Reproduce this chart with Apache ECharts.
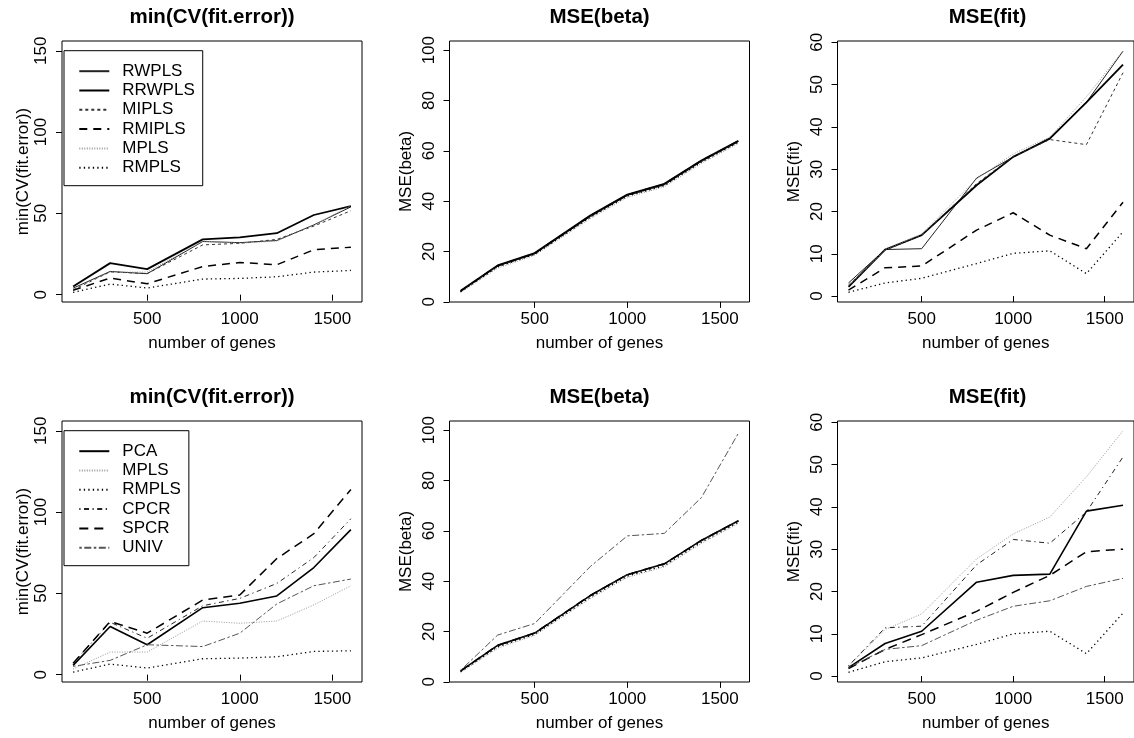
<!DOCTYPE html>
<html><head><meta charset="utf-8">
<script src="https://cdn.jsdelivr.net/npm/echarts@6/dist/echarts.min.js"></script>
<style>html,body{margin:0;padding:0;background:#fff}#c{width:1134px;height:738px}</style>
</head><body><div id="c"></div>
<script>
// ---------------- data ----------------
const genes = [100, 300, 500, 800, 1000, 1200, 1400, 1600];
const xTicks = [500, 1000, 1500];
const yTicksCV = [0, 50, 100, 150];
const yTicksBeta = [0, 20, 40, 60, 80, 100];
const yTicksFit = [0, 10, 20, 30, 40, 50, 60];

const panelTitles = ['min(CV(fit.error))', 'MSE(beta)', 'MSE(fit)'];
const xLabel = 'number of genes';

const row1Names = ['RWPLS', 'RRWPLS', 'MIPLS', 'RMIPLS', 'MPLS', 'RMPLS'];
const row2Names = ['PCA', 'MPLS', 'RMPLS', 'CPCR', 'SPCR', 'UNIV'];

// row 1 : min(CV(fit.error))
const cv_RWPLS  = [4.0, 14.3, 12.9, 32.7, 32.0, 33.3, 42.9, 54.0];
const cv_RRWPLS = [5.1, 19.4, 15.7, 34.0, 35.3, 37.8, 49.0, 54.5];
const cv_MIPLS  = [3.0, 14.0, 13.0, 30.6, 31.6, 34.0, 42.2, 51.6];
const cv_RMIPLS = [2.7, 10.2, 6.7, 17.3, 19.8, 18.4, 27.6, 29.2];
const cv_MPLS   = [3.5, 13.9, 13.9, 33.0, 31.6, 33.0, 42.9, 54.7];
const cv_RMPLS  = [1.4, 6.5, 4.1, 9.6, 10.0, 11.0, 13.9, 14.9];
// row 1 : MSE(beta)
const beta_RWPLS  = [4.2, 14.2, 19.1, 33.9, 42.3, 46.5, 55.8, 63.7];
const beta_RRWPLS = [4.4, 14.5, 19.4, 34.3, 42.6, 46.9, 56.2, 64.0];
const beta_MIPLS  = [4.1, 14.1, 19.0, 33.8, 42.2, 46.4, 55.7, 63.6];
const beta_RMIPLS = [4.3, 14.4, 19.3, 34.2, 42.5, 46.8, 56.1, 63.9];
const beta_MPLS   = [3.7, 13.4, 18.5, 33.1, 41.5, 45.7, 55.0, 62.9];
const beta_RMPLS  = [4.0, 13.9, 18.9, 33.6, 42.0, 46.2, 55.5, 63.4];
// row 1 : MSE(fit)
const fit_RWPLS  = [3.1, 11.0, 11.2, 27.9, 32.9, 37.4, 45.8, 57.9];
const fit_RRWPLS = [2.2, 11.0, 14.4, 26.2, 32.9, 37.2, 45.8, 54.7];
const fit_MIPLS  = [2.6, 10.8, 14.4, 26.6, 33.0, 37.0, 35.8, 52.8];
const fit_RMIPLS = [1.4, 6.7, 7.1, 15.6, 19.7, 14.4, 11.2, 22.2];
const fit_MPLS   = [2.4, 11.0, 14.7, 27.7, 33.6, 37.6, 47.1, 58.0];
const fit_RMPLS  = [0.9, 3.1, 4.2, 7.7, 10.1, 10.7, 5.3, 15.2];

// row 2 : min(CV(fit.error))
const cv2_PCA   = [5.7, 29.6, 18.4, 41.2, 43.9, 48.4, 65.9, 89.2];
const cv2_MPLS  = [3.5, 13.9, 13.9, 33.0, 31.6, 33.0, 42.9, 54.7];
const cv2_RMPLS = [1.6, 6.5, 4.1, 9.8, 10.2, 11.0, 14.3, 14.7];
const cv2_CPCR  = [7.1, 32.2, 22.4, 42.4, 46.9, 56.1, 72.0, 95.9];
const cv2_SPCR  = [7.1, 32.7, 25.5, 45.9, 49.0, 71.4, 86.7, 113.9];
const cv2_UNIV  = [5.1, 8.8, 18.4, 17.3, 25.5, 43.5, 54.7, 58.8];
// row 2 : MSE(beta)
const beta2_PCA   = [4.4, 14.5, 19.4, 34.3, 42.6, 46.9, 56.2, 64.0];
const beta2_MPLS  = [3.7, 13.4, 18.5, 33.1, 41.5, 45.7, 55.0, 62.9];
const beta2_RMPLS = [4.0, 13.9, 18.9, 33.6, 42.0, 46.2, 55.5, 63.4];
const beta2_CPCR  = [4.3, 14.4, 19.3, 34.2, 42.5, 46.8, 56.1, 63.9];
const beta2_SPCR  = [4.4, 14.5, 19.4, 34.3, 42.6, 46.9, 56.2, 64.0];
const beta2_UNIV  = [4.6, 18.6, 23.2, 45.8, 58.0, 59.0, 73.2, 98.8];
// row 2 : MSE(fit)
const fit2_PCA   = [2.0, 7.7, 10.6, 22.2, 23.8, 24.1, 39.0, 40.4];
const fit2_MPLS  = [2.4, 11.0, 14.7, 27.7, 33.6, 37.6, 47.1, 58.0];
const fit2_RMPLS = [0.9, 3.4, 4.3, 7.5, 10.0, 10.6, 5.3, 14.9];
const fit2_CPCR  = [2.4, 11.4, 11.8, 26.3, 32.3, 31.4, 38.8, 51.8];
const fit2_SPCR  = [1.8, 6.3, 9.8, 15.3, 19.8, 23.8, 29.4, 30.0];
const fit2_UNIV  = [2.0, 6.3, 7.2, 13.2, 16.5, 17.8, 21.2, 23.1];

// ---------------- styles / layout ----------------
const FONT = '"Liberation Sans", Arial, Helvetica, sans-serif';
const lineStyles = {
  RWPLS:  {color: '#222', width: 1,   type: 'solid'},
  RRWPLS: {color: '#000', width: 1.8, type: 'solid'},
  MIPLS:  {color: '#333', width: 1,   type: [3, 3]},
  RMIPLS: {color: '#000', width: 1.5, type: [8, 6]},
  MPLS:   {color: '#999', width: 1,   type: [1, 1.5]},
  RMPLS:  {color: '#000', width: 1.3, type: [1.3, 3.2]},
  PCA:    {color: '#000', width: 1.6, type: 'solid'},
  CPCR:   {color: '#222', width: 1,   type: [1.2, 3.5, 5, 3.5]},
  SPCR:   {color: '#000', width: 1.5, type: [9, 6]},
  UNIV:   {color: '#555', width: 1,   type: [2.5, 2.5, 7, 2.5]}
};

const gridLefts = [62, 449.5, 837.5];
const gridTops = [41, 421];
const GW = 300, GH = 261;
const yRanges = [[-4.5, 156], [-0.05, 103.65], [-1.4, 60.3]];
const yTickSets = [yTicksCV, yTicksBeta, yTicksFit];
const yNameGaps = [25, 35, 35];
const plainNum = v => String(v);

const panels = [
  {row: 0, col: 0, names: row1Names, vals: [cv_RWPLS, cv_RRWPLS, cv_MIPLS, cv_RMIPLS, cv_MPLS, cv_RMPLS]},
  {row: 0, col: 1, names: row1Names, vals: [beta_RWPLS, beta_RRWPLS, beta_MIPLS, beta_RMIPLS, beta_MPLS, beta_RMPLS]},
  {row: 0, col: 2, names: row1Names, vals: [fit_RWPLS, fit_RRWPLS, fit_MIPLS, fit_RMIPLS, fit_MPLS, fit_RMPLS]},
  {row: 1, col: 0, names: row2Names, vals: [cv2_PCA, cv2_MPLS, cv2_RMPLS, cv2_CPCR, cv2_SPCR, cv2_UNIV]},
  {row: 1, col: 1, names: row2Names, vals: [beta2_PCA, beta2_MPLS, beta2_RMPLS, beta2_CPCR, beta2_SPCR, beta2_UNIV]},
  {row: 1, col: 2, names: row2Names, vals: [fit2_PCA, fit2_MPLS, fit2_RMPLS, fit2_CPCR, fit2_SPCR, fit2_UNIV]}
];

const grids = [], xAxes = [], yAxes = [], series = [], titles = [];
panels.forEach((p, i) => {
  const left = gridLefts[p.col], top = gridTops[p.row];
  grids.push({left: left, top: top, width: GW, height: GH, show: true,
    borderColor: '#000', borderWidth: 1, backgroundColor: 'transparent', containLabel: false});
  xAxes.push({
    gridIndex: i, type: 'value', min: 40, max: 1660,
    axisLine: {show: false}, splitLine: {show: false},
    axisTick: {show: true, customValues: xTicks, length: 6, lineStyle: {color: '#000', width: 1}},
    axisLabel: {customValues: xTicks, formatter: plainNum, fontSize: 17, color: '#000', margin: 9, fontFamily: FONT},
    name: xLabel, nameLocation: 'middle', nameGap: 33,
    nameTextStyle: {fontSize: 17, color: '#000', fontFamily: FONT}
  });
  yAxes.push({
    gridIndex: i, type: 'value', min: yRanges[p.col][0], max: yRanges[p.col][1],
    axisLine: {show: false}, splitLine: {show: false},
    axisTick: {show: true, customValues: yTickSets[p.col], length: 6, lineStyle: {color: '#000', width: 1}},
    axisLabel: {customValues: yTickSets[p.col], formatter: plainNum, rotate: 90, fontSize: 17, color: '#000', margin: 12, fontFamily: FONT},
    name: panelTitles[p.col], nameLocation: 'middle', nameRotate: 90, nameGap: yNameGaps[p.col],
    nameTextStyle: {fontSize: 17, color: '#000', fontFamily: FONT}
  });
  titles.push({
    text: panelTitles[p.col], left: left + GW / 2, top: top - 34, textAlign: 'center', padding: 0,
    textStyle: {fontSize: 20.5, fontWeight: 'bold', color: '#000', fontFamily: FONT}
  });
  p.names.forEach((nm, k) => {
    series.push({
      name: nm, type: 'line', xAxisIndex: i, yAxisIndex: i,
      data: genes.map((g, j) => [g, p.vals[k][j]]),
      symbol: 'none', silent: true, animation: false,
      lineStyle: Object.assign({}, lineStyles[nm])
    });
  });
});

const legendCommon = {
  orient: 'vertical', left: 64, selectedMode: false,
  borderColor: '#000', borderWidth: 1, backgroundColor: '#fff',
  itemWidth: 30, itemHeight: 14, itemGap: 2.3,
  padding: [12, 8, 9.5, 14.3],
  itemStyle: {opacity: 0},
  textStyle: {fontSize: 17, color: '#000', fontFamily: FONT, padding: [0, 0, 0, 8]}
};
const legends = [
  Object.assign({}, legendCommon, {data: row1Names, top: 50.7}),
  Object.assign({}, legendCommon, {data: row2Names, top: 430.7})
];

const chart = echarts.init(document.getElementById('c'), null, {renderer: 'canvas'});
chart.setOption({
  animation: false,
  backgroundColor: '#fff',
  title: titles,
  legend: legends,
  grid: grids,
  xAxis: xAxes,
  yAxis: yAxes,
  series: series
});
</script>
</body></html>
